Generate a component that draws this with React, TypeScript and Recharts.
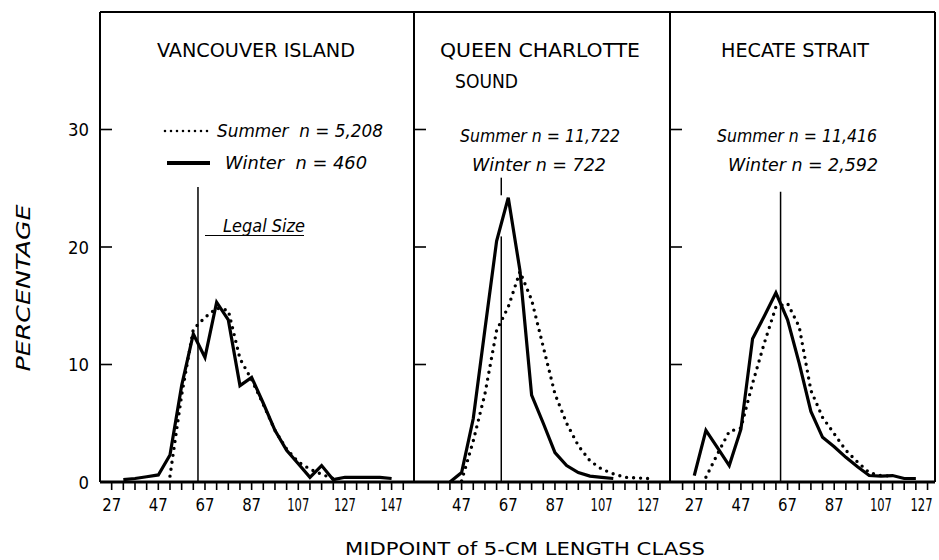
import React from "react";
import { LineChart, Line, XAxis, YAxis, ReferenceLine } from "recharts";

const FONT = "'DejaVu Sans Condensed', 'Liberation Sans Narrow', 'DejaVu Sans', sans-serif";

// Vancouver Island
const viWinterLen = [32, 37, 42, 47, 52, 57, 62, 67, 72, 77, 82, 87, 92, 97, 102, 107, 112, 117, 122, 127, 132, 137, 142, 147];
const viWinter = [0.2, 0.3, 0.45, 0.6, 2.3, 8.2, 12.6, 10.6, 15.3, 13.8, 8.2, 8.9, 6.7, 4.4, 2.7, 1.55, 0.4, 1.4, 0.2, 0.4, 0.4, 0.4, 0.4, 0.3];
const viSummerLen = [52, 57, 62, 67, 72, 77, 82, 87, 92, 97, 102, 107, 112, 117, 122];
const viSummer = [0.5, 7.4, 13.0, 14.0, 14.8, 14.6, 10.5, 8.7, 6.6, 4.4, 2.8, 1.7, 1.1, 0.65, 0.3];

// Queen Charlotte Sound
const qcWinterLen = [42, 47, 52, 57, 62, 67, 72, 77, 82, 87, 92, 97, 102, 107, 112];
const qcWinter = [0, 0.8, 5.4, 13.0, 20.5, 24.2, 18.0, 7.4, 5.0, 2.5, 1.4, 0.8, 0.5, 0.4, 0.3];
const qcSummerLen = [47, 52, 57, 62, 67, 72, 77, 82, 87, 92, 97, 102, 107, 112, 117, 122, 127];
const qcSummer = [0.1, 3.5, 7.5, 12.9, 14.9, 17.9, 15.5, 11.5, 7.5, 5.0, 3.1, 1.8, 1.1, 0.7, 0.4, 0.35, 0.3];

// Hecate Strait
const hsWinterLen = [27, 32, 37, 42, 47, 52, 57, 62, 67, 72, 77, 82, 87, 92, 97, 102, 107, 112, 117, 122];
const hsWinter = [0.55, 4.4, 2.9, 1.4, 4.5, 12.2, 14.1, 16.1, 13.8, 10.1, 6.0, 3.8, 3.0, 2.1, 1.3, 0.55, 0.5, 0.55, 0.3, 0.3];
const hsSummerLen = [32, 37, 42, 47, 52, 57, 62, 67, 72, 77, 82, 87, 92, 97, 102, 107, 112];
const hsSummer = [0.4, 2.4, 4.3, 4.6, 8.4, 11.8, 14.9, 15.2, 13.2, 7.8, 5.5, 4.1, 2.7, 1.7, 0.8, 0.55, 0.5];

// axis ticks
const viTicks = [27, 32, 37, 42, 47, 52, 57, 62, 67, 72, 77, 82, 87, 92, 97, 102, 107, 112, 117, 122, 127, 132, 137, 142, 147, 152];
const viLabels = [27, 47, 67, 87, 107, 127, 147];
const qcTicks = [37, 42, 47, 52, 57, 62, 67, 72, 77, 82, 87, 92, 97, 102, 107, 112, 117, 122, 127, 132];
const qcLabels = [47, 67, 87, 107, 127];
const hsTicks = [22, 27, 32, 37, 42, 47, 52, 57, 62, 67, 72, 77, 82, 87, 92, 97, 102, 107, 112, 117, 122, 127];
const hsLabels = [27, 47, 67, 87, 107, 127];
const yTicks = [0, 10, 20, 30];

const LEGAL_SIZE = 64;

const toPts = (xs: number[], ys: number[]) => xs.map((x, i) => ({ x, y: ys[i] }));

const makeYTick = (withLabel: boolean) => (props: any) => {
  const { x, y, payload } = props;
  const s = String(payload.value);
  return (
    <g>
      {payload.value > 0 && <line x1={x} y1={y} x2={x + 12} y2={y} stroke="#000" strokeWidth={1.6} />}
      {withLabel && (
        <text
          x={x - 11}
          y={y + 6.5}
          textAnchor="end"
          fontSize={18}
          fontFamily={FONT}
          fill="#000"
          textLength={s.length * 10.5}
          lengthAdjust="spacingAndGlyphs"
        >
          {s}
        </text>
      )}
    </g>
  );
};

// at the right edge of the figure the last label is pulled in a little so it stays inside
const makeXTick = (labels: number[], lastAtEdge: boolean) => (props: any) => {
  const { x, y, payload } = props;
  if (!labels.includes(payload.value)) return <g />;
  const s = String(payload.value);
  const len = s.length === 3 ? 22 : 19;
  const atEdge = lastAtEdge && payload.value === labels[labels.length - 1];
  return (
    <text
      x={atEdge ? x + 5 : x}
      y={y + 19}
      textAnchor={atEdge ? "end" : "middle"}
      fontSize={18}
      fontFamily={FONT}
      fill="#000"
      textLength={len}
      lengthAdjust="spacingAndGlyphs"
    >
      {s}
    </text>
  );
};

interface PanelProps {
  left: number;
  width: number;
  yAxisWidth: number;
  xDomain: [number, number];
  xTicks: number[];
  xLabels: number[];
  winter: { x: number; y: number }[];
  summer: { x: number; y: number }[];
  legal: [number, number][];
  yLabels?: boolean;
  rightBorder?: boolean;
}

function Panel({ left, width, yAxisWidth, xDomain, xTicks, xLabels, winter, summer, legal, yLabels = false, rightBorder = false }: PanelProps) {
  return (
    <div style={{ position: "absolute", left, top: 0 }}>
      <LineChart width={width} height={522} margin={{ top: 12, right: rightBorder ? 4 : 0, left: 0, bottom: 0 }}>
        <XAxis
          type="number"
          dataKey="x"
          domain={xDomain}
          ticks={xTicks}
          interval={0}
          allowDataOverflow
          height={40}
          axisLine={{ stroke: "#000", strokeWidth: 3 }}
          tickLine={{ stroke: "#000", strokeWidth: 1.6 }}
          tickSize={8}
          tickMargin={2}
          tick={makeXTick(xLabels, rightBorder)}
        />
        <YAxis
          type="number"
          domain={[0, 40]}
          ticks={yTicks}
          interval={0}
          allowDataOverflow
          width={yAxisWidth}
          axisLine={{ stroke: "#000", strokeWidth: 2 }}
          tickLine={false}
          tickSize={0}
          tickMargin={0}
          tick={makeYTick(yLabels)}
        />
        <ReferenceLine y={40} stroke="#000" strokeWidth={2} />
        {rightBorder && <ReferenceLine x={xDomain[1]} stroke="#000" strokeWidth={2} />}
        {legal.map((seg, i) => (
          <ReferenceLine
            key={i}
            segment={[
              { x: LEGAL_SIZE, y: seg[0] },
              { x: LEGAL_SIZE, y: seg[1] },
            ]}
            stroke="#000"
            strokeWidth={1.5}
          />
        ))}
        <Line
          data={summer}
          dataKey="y"
          stroke="#000"
          strokeWidth={3.4}
          strokeDasharray="0 7"
          strokeLinecap="round"
          dot={false}
          isAnimationActive={false}
        />
        <Line data={winter} dataKey="y" stroke="#000" strokeWidth={3.2} dot={false} isAnimationActive={false} />
      </LineChart>
    </div>
  );
}

export default function App() {
  const t = { fontFamily: FONT, fill: "#000" };
  return (
    <div style={{ position: "absolute", left: 0, top: 0, width: 939, height: 560, background: "#fff", overflow: "hidden" }}>
      <Panel
        left={0}
        width={414}
        yAxisWidth={100}
        xDomain={[22, 156.6]}
        xTicks={viTicks}
        xLabels={viLabels}
        winter={toPts(viWinterLen, viWinter)}
        summer={toPts(viSummerLen, viSummer)}
        legal={[[0, 25.1]]}
        yLabels
      />
      <Panel
        left={404}
        width={266}
        yAxisWidth={10}
        xDomain={[26.6, 136.3]}
        xTicks={qcTicks}
        xLabels={qcLabels}
        winter={toPts(qcWinterLen, qcWinter)}
        summer={toPts(qcSummerLen, qcSummer)}
        legal={[
          [0, 20.9],
          [24.4, 25.9],
        ]}
      />
      <Panel
        left={660}
        width={279}
        yAxisWidth={10}
        xDomain={[16.6, 130.2]}
        xTicks={hsTicks}
        xLabels={hsLabels}
        winter={toPts(hsWinterLen, hsWinter)}
        summer={toPts(hsSummerLen, hsSummer)}
        legal={[[0, 24.7]]}
        rightBorder
      />
      <svg width={939} height={560} style={{ position: "absolute", left: 0, top: 0, pointerEvents: "none" }}>
        {/* panel titles */}
        <text {...t} x={256} y={57} fontSize={20} textAnchor="middle" textLength={198} lengthAdjust="spacingAndGlyphs">
          VANCOUVER ISLAND
        </text>
        <text {...t} x={440} y={57} fontSize={20} textLength={200} lengthAdjust="spacingAndGlyphs">
          QUEEN CHARLOTTE
        </text>
        <text {...t} x={455} y={88} fontSize={20} textLength={63} lengthAdjust="spacingAndGlyphs">
          SOUND
        </text>
        <text {...t} x={795} y={57} fontSize={20} textAnchor="middle" textLength={148} lengthAdjust="spacingAndGlyphs">
          HECATE STRAIT
        </text>

        {/* legend, panel 1 */}
        <line x1={165} y1={131} x2={210} y2={131} stroke="#000" strokeWidth={2.6} strokeDasharray="0 6" strokeLinecap="round" />
        <line x1={167} y1={163} x2={210} y2={163} stroke="#000" strokeWidth={4} />
        <text {...t} x={217} y={137} fontSize={18} fontStyle="italic" textLength={166} lengthAdjust="spacingAndGlyphs" xmlSpace="preserve">
          Summer  n = 5,208
        </text>
        <text {...t} x={225} y={169} fontSize={18} fontStyle="italic" textLength={142} lengthAdjust="spacingAndGlyphs" xmlSpace="preserve">
          Winter  n = 460
        </text>

        {/* panel 2 */}
        <text {...t} x={460} y={142} fontSize={18} fontStyle="italic" textLength={160} lengthAdjust="spacingAndGlyphs">
          Summer n = 11,722
        </text>
        <text {...t} x={472} y={171} fontSize={18} fontStyle="italic" textLength={134} lengthAdjust="spacingAndGlyphs">
          Winter n = 722
        </text>

        {/* panel 3 */}
        <text {...t} x={717} y={142} fontSize={18} fontStyle="italic" textLength={160} lengthAdjust="spacingAndGlyphs">
          Summer n = 11,416
        </text>
        <text {...t} x={728} y={171} fontSize={18} fontStyle="italic" textLength={150} lengthAdjust="spacingAndGlyphs">
          Winter n = 2,592
        </text>

        {/* legal size note */}
        <text {...t} x={223} y={232} fontSize={17} fontStyle="italic" textLength={82} lengthAdjust="spacingAndGlyphs">
          Legal Size
        </text>
        <line x1={205} y1={235.5} x2={304} y2={235.5} stroke="#000" strokeWidth={1.2} />

        {/* axis titles */}
        <text
          {...t}
          x={0}
          y={0}
          fontSize={19}
          fontStyle="italic"
          textAnchor="middle"
          textLength={167}
          lengthAdjust="spacingAndGlyphs"
          transform="translate(30 288) rotate(-90)"
        >
          PERCENTAGE
        </text>
        <text {...t} x={525} y={555} fontSize={18} textAnchor="middle" textLength={360} lengthAdjust="spacingAndGlyphs">
          MIDPOINT of 5-CM LENGTH CLASS
        </text>
      </svg>
    </div>
  );
}
